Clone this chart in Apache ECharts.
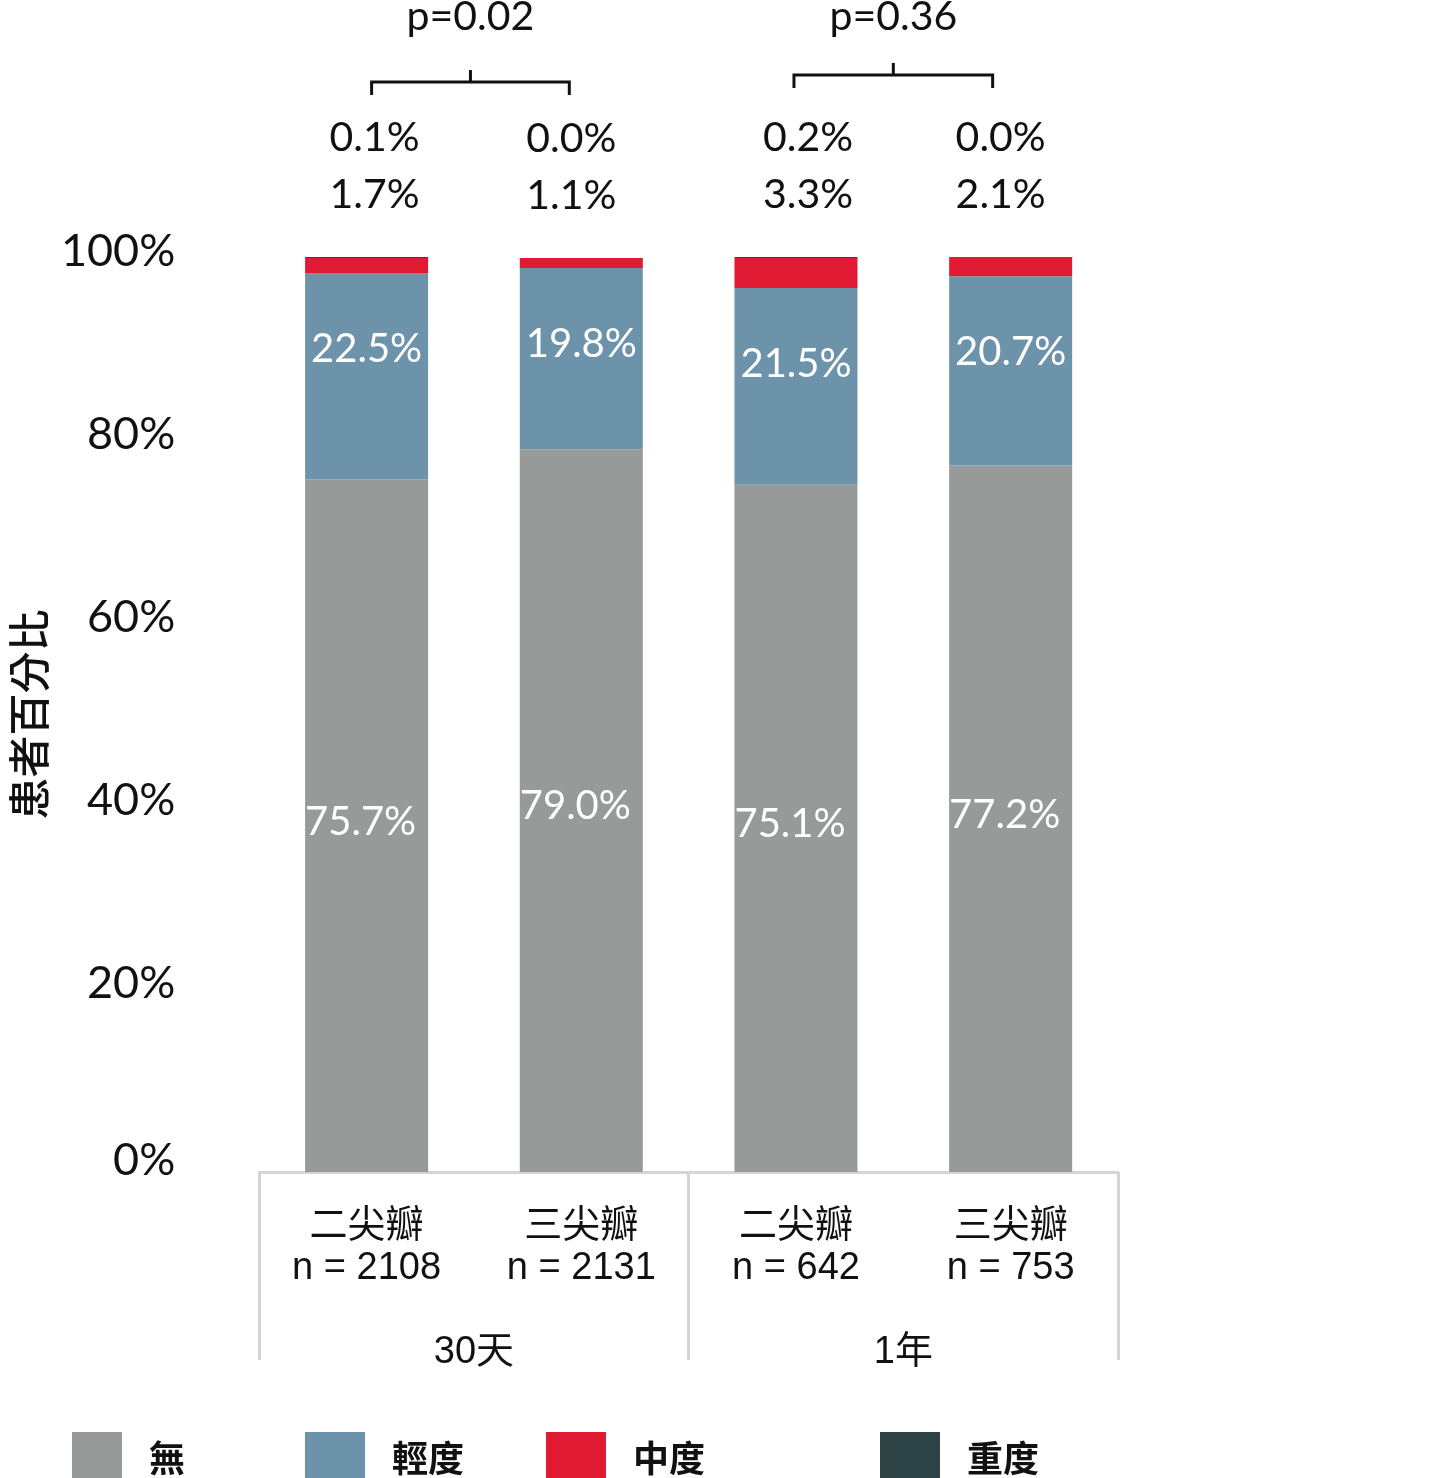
<!DOCTYPE html>
<html>
<head>
<meta charset="utf-8">
<script src="https://cdn.jsdelivr.net/npm/echarts@6/dist/echarts.min.js"></script>
<style>
html,body{margin:0;padding:0;background:#fff;}
#chart{width:1441px;height:1478px;}
</style>
</head>
<body>
<div id="chart"></div>
<script>
// ---- data ----
const categories = ['二尖瓣\nn = 2108', '三尖瓣\nn = 2131', '二尖瓣\nn = 642', '三尖瓣\nn = 753'];
const groups = ['30天', '1年'];
const seriesNames = ['無', '輕度', '中度', '重度'];
const noneVals = [75.7, 79.0, 75.1, 77.2];
const mildVals = [22.5, 19.8, 21.5, 20.7];
const moderateVals = [1.7, 1.1, 3.3, 2.1];
const severeVals = [0.1, 0.0, 0.2, 0.0];
const yTicks = [0, 20, 40, 60, 80, 100];
const pValues = ['p=0.02', 'p=0.36'];
const pPairs = [[0, 1], [2, 3]];

const colors = ['#979a99', '#6d93aa', '#e01a33', '#2d4244'];
const numFont = 'Lato, "Open Sans", sans-serif';
const cjkFont = '"Liberation Sans", "Noto Sans CJK TC", sans-serif';

const chart = echarts.init(document.getElementById('chart'));

function pct(v) { return v.toFixed(1) + '%'; }

const topLabelShift = [8, -10, 12, -10];

const option = {
  backgroundColor: '#fff',
  animation: false,
  grid: { left: 257, right: 323, top: 257, bottom: 306, containLabel: false },
  xAxis: [
    {
      type: 'category',
      data: categories,
      axisLine: { show: true, lineStyle: { color: '#d4d4d4', width: 3 } },
      axisTick: { show: false },
      axisLabel: {
        margin: 34, fontSize: 38, lineHeight: 42, color: '#111',
        fontFamily: cjkFont, interval: 0
      }
    },
    {
      type: 'category',
      data: groups,
      position: 'bottom',
      axisLine: { show: false },
      axisTick: { show: true, length: 188, lineStyle: { color: '#d4d4d4', width: 3 } },
      axisLabel: { margin: 162, fontSize: 38, color: '#111', fontFamily: cjkFont }
    }
  ],
  yAxis: {
    type: 'value',
    min: 0, max: 100, interval: 20,
    name: '患者百分比',
    nameLocation: 'middle',
    nameGap: 192,
    nameRotate: 90,
    nameTextStyle: { fontSize: 42, color: '#111', fontFamily: '"Noto Sans CJK TC", sans-serif', fontWeight: 500 },
    axisLine: { show: false },
    axisTick: { show: false },
    splitLine: { show: false },
    axisLabel: {
      margin: 84,
      formatter: function (v) {
        if (yTicks.indexOf(v) < 0) return '';
        return (v === 0 ? '{z|' : '{v|') + v + '%}';
      },
      rich: {
        v: { fontSize: 45, color: '#111', fontFamily: numFont, padding: [0, 0, 12, 0] },
        z: { fontSize: 45, color: '#111', fontFamily: numFont, padding: [0, 0, 24, 0] }
      }
    }
  },
  legend: [0, 1, 2, 3].map(function (i) {
    const lefts = [67, 300, 541, 875];
    return {
      data: [seriesNames[i]],
      left: lefts[i], top: 1427,
      icon: 'rect',
      itemWidth: i === 0 ? 50 : 60, itemHeight: 52,
      selectedMode: false,
      textStyle: {
        fontSize: 36, color: '#111', fontWeight: 'bold',
        fontFamily: '"Noto Sans CJK TC", sans-serif',
        padding: [0, 0, 8, 22]
      }
    };
  }),
  series: [
    {
      name: seriesNames[0], type: 'bar', stack: 'all', barWidth: 123,
      data: noneVals, itemStyle: { color: colors[0] },
      label: { show: true, position: 'inside', offset: [-6, -4], color: '#fff', fontSize: 40, fontFamily: numFont,
        formatter: function (p) { return pct(p.value); } }
    },
    {
      name: seriesNames[1], type: 'bar', stack: 'all', barWidth: 123,
      data: mildVals, itemStyle: { color: colors[1] },
      label: { show: true, position: 'insideTop', distance: 56, color: '#fff', fontSize: 40, fontFamily: numFont,
        formatter: function (p) { return pct(p.value); } }
    },
    {
      name: seriesNames[2], type: 'bar', stack: 'all', barWidth: 123,
      data: moderateVals, itemStyle: { color: colors[2] }
    },
    {
      name: seriesNames[3], type: 'bar', stack: 'all', barWidth: 123,
      data: severeVals.map(function (v, i) {
        return { value: v, label: { offset: [topLabelShift[i], 0] } };
      }),
      itemStyle: { color: colors[3] },
      label: { show: true, position: 'top', distance: 34, color: '#111', fontSize: 41, lineHeight: 57,
        fontFamily: numFont,
        formatter: function (p) { return pct(severeVals[p.dataIndex]) + '\n' + pct(moderateVals[p.dataIndex]); } }
    }
  ]
};

chart.setOption(option);

// brackets with p-values, positioned through the chart's own scales
const topY = chart.convertToPixel({ yAxisIndex: 0 }, 100);
const graphics = [];
pPairs.forEach(function (pair, k) {
  const x1 = chart.convertToPixel({ xAxisIndex: 0 }, categories[pair[0]]) + (k === 0 ? 5 : -2);
  const x2 = chart.convertToPixel({ xAxisIndex: 0 }, categories[pair[1]]) - (k === 0 ? 12 : 18);
  const yBar = topY - 175 - (k === 1 ? 7 : 0);
  const xm = (x1 + x2) / 2;
  graphics.push({
    type: 'polyline',
    shape: { points: [[x1, yBar + 13], [x1, yBar], [x2, yBar], [x2, yBar + 13]] },
    style: { stroke: '#111', lineWidth: 3, fill: null }
  });
  graphics.push({
    type: 'line',
    shape: { x1: xm, y1: yBar, x2: xm, y2: yBar - 12 },
    style: { stroke: '#111', lineWidth: 3 }
  });
  graphics.push({
    type: 'text',
    x: xm, y: topY - 240,
    style: { text: pValues[k], fontSize: 41, fontFamily: numFont, fill: '#111', align: 'center', verticalAlign: 'middle' }
  });
});
chart.setOption({ graphic: graphics });
</script>
</body>
</html>
